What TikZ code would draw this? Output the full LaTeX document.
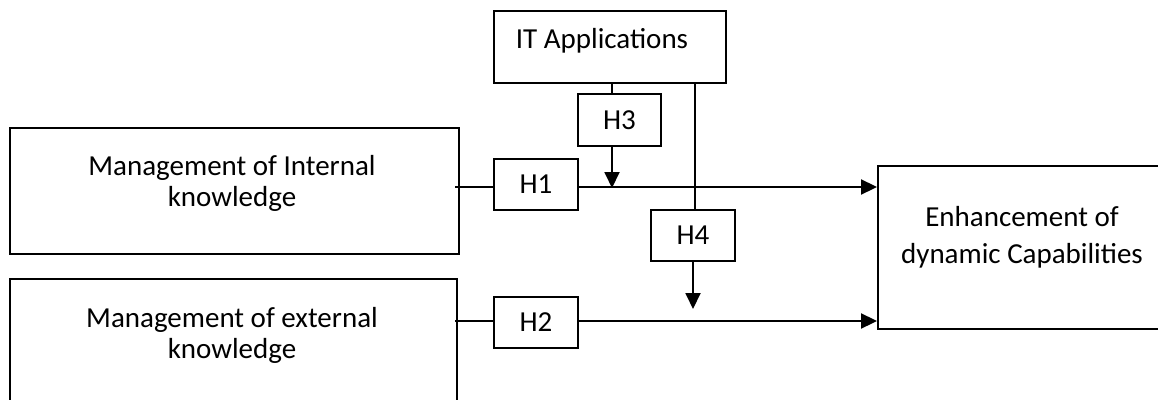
\documentclass[tikz,border=0pt]{standalone}
\usepackage{fontspec}
\setmainfont{Carlito}
\usetikzlibrary{arrows.meta}
\begin{document}
\begin{tikzpicture}[x=1pt,y=-1pt,
  box/.style={draw, line width=1.9pt, inner sep=0pt},
  lbl/.style={inner sep=0pt, align=center, font=\fontsize{29}{31}\selectfont},
  conn/.style={line width=1.9pt},
  arr/.style={line width=1.9pt, -{Triangle[length=16pt,width=15pt]}}]
\clip (0,0) rectangle (1158,399);
\fill[white] (0,0) rectangle (1158,399);

% boxes
\node[box, minimum width=232pt, minimum height=72pt] (it) at (610,47) {};
\node[lbl, anchor=base] (itt) at (602,48) {IT Applications};

\node[box, minimum width=449pt, minimum height=126pt] (int) at (234.5,191) {};
\node[lbl, anchor=base] (intt) at (232,206) {Management of Internal\\knowledge};

\node[box, minimum width=447pt, minimum height=141pt] (ext) at (233.5,349.5) {};
\node[lbl, anchor=base] (extt) at (232,358) {Management of external\\knowledge};

\node[box, minimum width=400pt, minimum height=163pt] (enh) at (1078,247.5) {};
\node[lbl, anchor=base, font=\fontsize{29}{37}\selectfont] (enht) at (1022,263) {Enhancement of\\dynamic Capabilities};

% hypothesis labels
\node[box, minimum width=84pt, minimum height=51pt, lbl] (h1) at (536,184.5) {H1};
\node[box, minimum width=84pt, minimum height=51pt, lbl] (h2) at (536,322.5) {H2};
\node[box, minimum width=83pt, minimum height=52pt, lbl] (h3) at (619.5,120) {H3};
\node[box, minimum width=84pt, minimum height=51pt, lbl] (h4) at (693,235.5) {H4};

% junction points
\coordinate (s1) at (455,187);
\coordinate (s2) at (455,321);
\coordinate (m3) at (612,188);
\coordinate (m4) at (693,309);
\coordinate (v4) at (695,0);

% main paths
\draw[conn] (s1) -- (h1.west |- s1);
\draw[arr] (h1.east |- s1) -- (enh.west |- s1);
\draw[conn] (s2) -- (h2.west |- s2);
\draw[arr] (h2.east |- s2) -- (enh.west |- s2);

% moderating paths
\draw[conn] (it.south -| m3) -- (h3.north -| m3);
\draw[arr] (h3.south -| m3) -- (m3);
\draw[conn] (it.south -| v4) -- (h4.north -| v4);
\draw[arr] (h4.south) -- (m4);
\end{tikzpicture}
\end{document}
